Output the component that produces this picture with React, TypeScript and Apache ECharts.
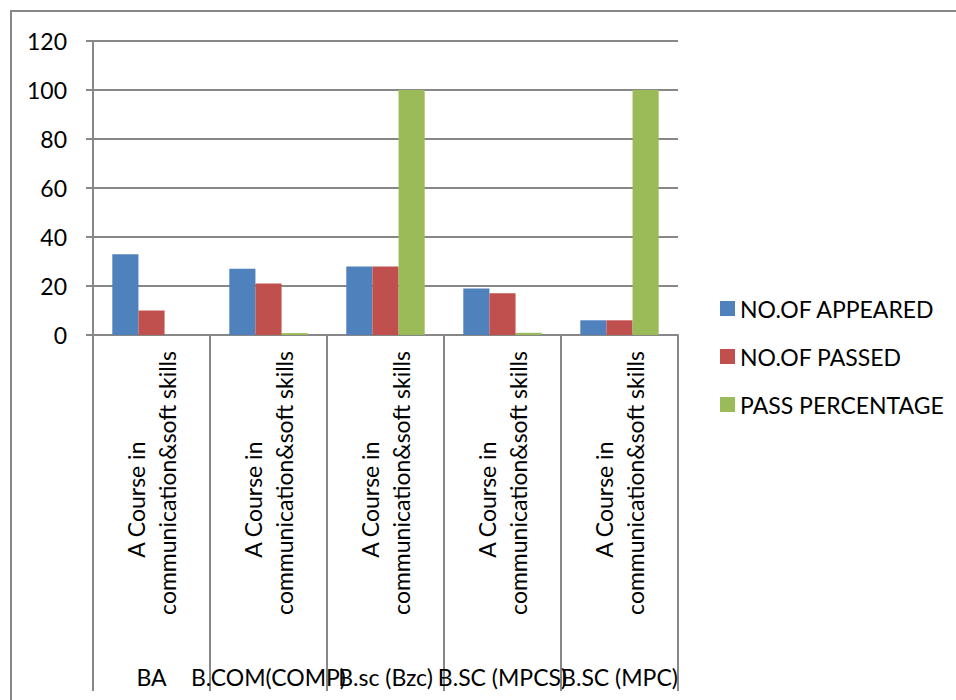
import React, { useEffect, useRef } from "react";
import * as echarts from "echarts";

const courseLabels = [
  "A Course in\ncommunication&soft skills",
  "A Course in\ncommunication&soft skills",
  "A Course in\ncommunication&soft skills",
  "A Course in\ncommunication&soft skills",
  "A Course in\ncommunication&soft skills",
];
const programLabels = ["BA", "B.COM(COMP)", "B.sc (Bzc)", "B.SC (MPCS)", "B.SC (MPC)"];
const seriesNames = ["NO.OF APPEARED", "NO.OF PASSED", "PASS PERCENTAGE"];
const appeared = [33, 27, 28, 19, 6];
const passed = [10, 21, 28, 17, 6];
const passPercentage = [0, 0.78, 100, 0.89, 100];
const yTicks = { min: 0, max: 120, interval: 20 };
const colors = ["#4F81BD", "#C0504D", "#9BBB59"];

export default function App() {
  const ref = useRef<HTMLDivElement>(null);
  useEffect(() => {
    document.body.style.margin = "0";
    const chart = echarts.init(ref.current!, null, { renderer: "svg" });
    const font = "Lato";
    const fs = 23;
    const grey = "#878787";
    const cats = programLabels.map((p, i) => p + "|" + i);
    chart.setOption({
      animation: false,
      backgroundColor: "#fff",
      textStyle: { fontFamily: font },
      color: colors,
      graphic: [
        {
          type: "rect",
          shape: { x: 11, y: 11, width: 1000, height: 760 },
          style: { fill: "none", stroke: grey, lineWidth: 2 },
          silent: true,
        },
      ],
      legend: {
        orient: "vertical",
        left: 715,
        top: 292,
        itemWidth: 15,
        itemHeight: 15,
        itemGap: 25,
        icon: "rect",
        data: seriesNames,
        textStyle: { fontFamily: font, fontSize: fs, color: "#000" },
      },
      grid: { left: 93, right: 278, top: 41, bottom: 365, containLabel: false },
      xAxis: [
        {
          type: "category",
          data: cats,
          position: "bottom",
          axisLine: { show: true, lineStyle: { color: grey, width: 2 } },
          axisTick: { show: true, interval: 0, length: 356, lineStyle: { color: grey, width: 2 } },
          axisLabel: {
            interval: 0,
            rotate: 90,
            margin: 16,
            formatter: (_v: string, i: number) => {
              const lines = courseLabels[i].split("\n");
              return "{s|" + lines[0] + "}\n{l|" + lines[1] + "}";
            },
            rich: {
              s: { fontFamily: font, fontSize: fs, color: "#000", align: "left", padding: [0, 0, 0, 57], lineHeight: 31 },
              l: { fontFamily: font, fontSize: fs, color: "#000", lineHeight: 31 },
            },
          },
        },
        {
          type: "category",
          data: cats,
          position: "bottom",
          offset: 322,
          axisLine: { show: false },
          axisTick: { show: false },
          axisLabel: {
            interval: 0,
            margin: 8,
            fontFamily: font,
            fontSize: fs,
            color: "#000",
            formatter: (_v: string, i: number) => programLabels[i],
          },
        },
      ],
      yAxis: {
        type: "value",
        min: yTicks.min,
        max: yTicks.max,
        interval: yTicks.interval,
        axisLine: { show: true, lineStyle: { color: grey, width: 2 } },
        axisTick: { show: true, length: 7, lineStyle: { color: grey, width: 2 } },
        axisLabel: { fontFamily: font, fontSize: fs, color: "#000", margin: 26 },
        splitLine: { show: true, lineStyle: { color: grey, width: 2 } },
      },
      series: [appeared, passed, passPercentage].map((d, i) => ({
        name: seriesNames[i],
        type: "bar",
        data: d,
        xAxisIndex: 0,
        barGap: "0%",
        barCategoryGap: "33%",
        itemStyle: { color: colors[i] },
      })),
    });
    return () => chart.dispose();
  }, []);
  return <div ref={ref} style={{ width: 956, height: 700 }} />;
}
